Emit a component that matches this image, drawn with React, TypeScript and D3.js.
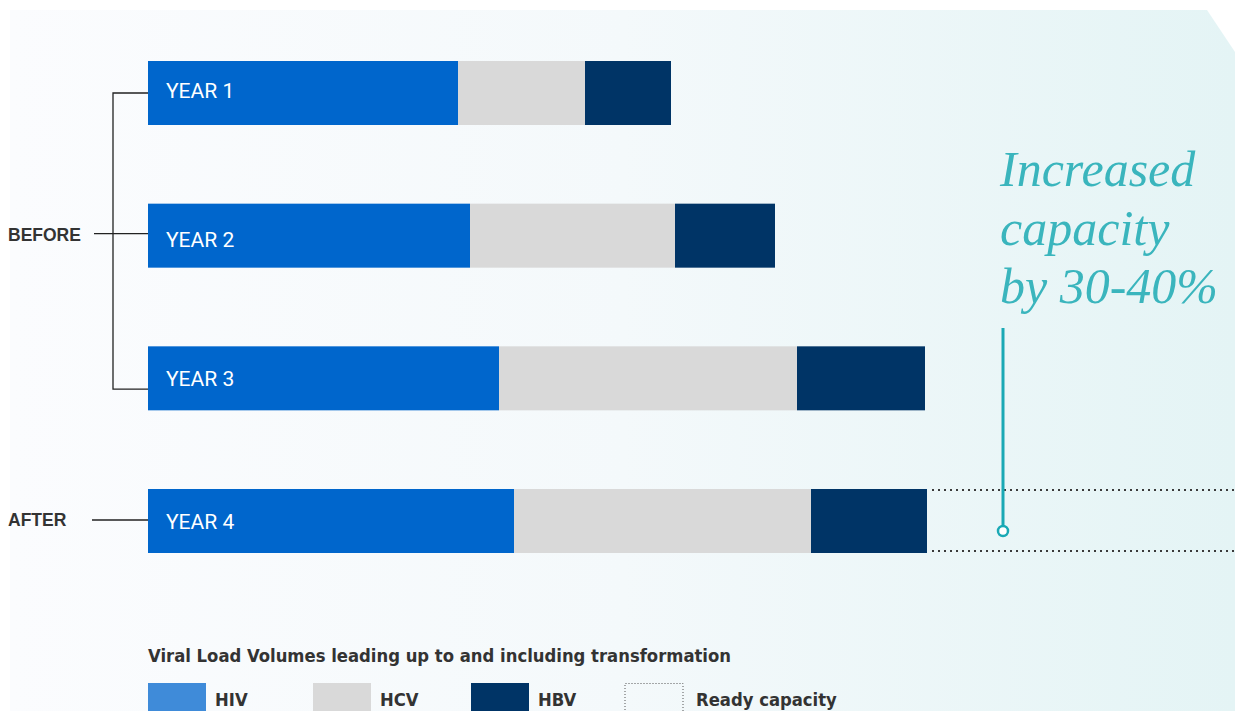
import React from "react";
import * as d3 from "d3";

const years = ["YEAR 1", "YEAR 2", "YEAR 3", "YEAR 4"];
const hiv = [310, 322, 351, 366];
const hcv = [127, 205, 298, 297];
const hbv = [86, 100, 128, 116];
const seriesNames = ["HIV", "HCV", "HBV"];
const legendLabels = ["HIV", "HCV", "HBV", "Ready capacity"];
const groupLabels = ["BEFORE", "AFTER"];
const title = "Viral Load Volumes leading up to and including transformation";
const annotation = ["Increased", "capacity", "by 30-40%"];

const W = 1235;
const H = 711;
const barColors = ["#0066cc", "#d9d9d9", "#003466"];
const legendColors = ["#3f8bd9", "#d9d9d9", "#003466"];
const teal = "#1aa9b5";
const textTeal = "#3ab5bd";
const dark = "#333333";
const labelDy = [5, 11, 8, 8];
const condensed = "DejaVu Sans Condensed, DejaVu Sans, sans-serif";

export default function App() {
  const x = d3.scaleLinear().domain([0, 1087]).range([148, 1235]);
  const y = d3.scaleBand<string>().domain(years).range([61, 553]).paddingInner(0.5514).paddingOuter(0);
  const bw = y.bandwidth();

  const rows = years.map((yr, i) => ({ yr, HIV: hiv[i], HCV: hcv[i], HBV: hbv[i] }));
  const stack = d3.stack<any>().keys(seriesNames)(rows);

  const y1c = (y(years[0]) as number) + bw / 2;
  const y3b = (y(years[2]) as number) + bw * 0.67;
  const y2c = (y(years[1]) as number) + bw / 2 - 2;
  const y4c = (y(years[3]) as number) + bw / 2 - 1;
  const y4top = y(years[3]) as number;
  const total4 = hiv[3] + hcv[3] + hbv[3];
  const capX0 = x(total4) + 5;

  const legendX = [148, 313, 471, 625];

  return (
    <svg width={W} height={H} style={{ position: "absolute", left: 0, top: 0, display: "block" }}>
      <defs>
        <linearGradient id="bg" x1="0" x2="1" y1="0" y2="0">
          <stop offset="0" stopColor="#fbfcfe" />
          <stop offset="0.5" stopColor="#f4f9fb" />
          <stop offset="1" stopColor="#e4f4f5" />
        </linearGradient>
      </defs>
      <rect x={0} y={0} width={W} height={H} fill="#ffffff" />
      <polygon points={`10,10 1207,10 1235,52 1235,711 10,711`} fill="url(#bg)" />

      {/* bracket */}
      <g stroke="#222" strokeWidth={1.3} fill="none">
        <path d={`M148,${y1c} H113 V${y3b} H148`} />
        <line x1={94} x2={148} y1={y2c} y2={y2c} />
        <line x1={92} x2={148} y1={y4c} y2={y4c} />
      </g>
      <text x={8} y={y2c + 7} fontFamily="Liberation Sans, Arial, sans-serif" fontWeight={700} fontSize={17.5} fill={dark}>{groupLabels[0]}</text>
      <text x={8} y={y4c + 6} fontFamily="Liberation Sans, Arial, sans-serif" fontWeight={700} fontSize={17.5} fill={dark}>{groupLabels[1]}</text>

      {/* bars */}
      {stack.map((s, si) => (
        <g key={s.key} fill={barColors[si]}>
          {s.map((d, i) => (
            <rect key={i} x={x(d[0])} y={y(years[i])} width={x(d[1]) - x(d[0])} height={bw} />
          ))}
        </g>
      ))}
      {years.map((yr, i) => (
        <text key={yr} x={166} y={(y(yr) as number) + bw / 2 + labelDy[i]} fill="#fff" fontFamily="Roboto, Liberation Sans, sans-serif" fontWeight={400} fontSize={21}>{yr}</text>
      ))}

      {/* ready capacity */}
      <g stroke="#3a3a3a" strokeWidth={2} strokeDasharray="2 4">
        <line x1={capX0} x2={W} y1={y4top + 1} y2={y4top + 1} />
        <line x1={capX0} x2={W} y1={y4top + bw - 2} y2={y4top + bw - 2} />
      </g>
      <line x1={1003} x2={1003} y1={328} y2={526} stroke={teal} strokeWidth={3} />
      <circle cx={1003} cy={531} r={5} fill="#fff" stroke={teal} strokeWidth={2.5} />
      {annotation.map((t, i) => (
        <text key={i} x={1000} y={186 + i * 58.5} fill={textTeal} fontFamily="Liberation Serif, DejaVu Serif, serif" fontStyle="italic" fontSize={50}>{t}</text>
      ))}

      {/* legend */}
      <text x={148} y={662} fontFamily={condensed} fontWeight={700} fontSize={18.3} fill={dark}>{title}</text>
      {legendLabels.map((l, i) => (
        <g key={l}>
          {i < 3 ? (
            <rect x={legendX[i]} y={683} width={58} height={30} fill={legendColors[i]} />
          ) : (
            <path d={`M${legendX[i]},713 V683.5 H${legendX[i] + 58} V713`} fill="none" stroke="#555" strokeWidth={1} strokeDasharray="1 2" />
          )}
          <text x={legendX[i] + (i === 3 ? 71 : 67)} y={706} fontFamily={condensed} fontWeight={700} fontSize={18.3} fill={dark}>{l}</text>
        </g>
      ))}
    </svg>
  );
}
